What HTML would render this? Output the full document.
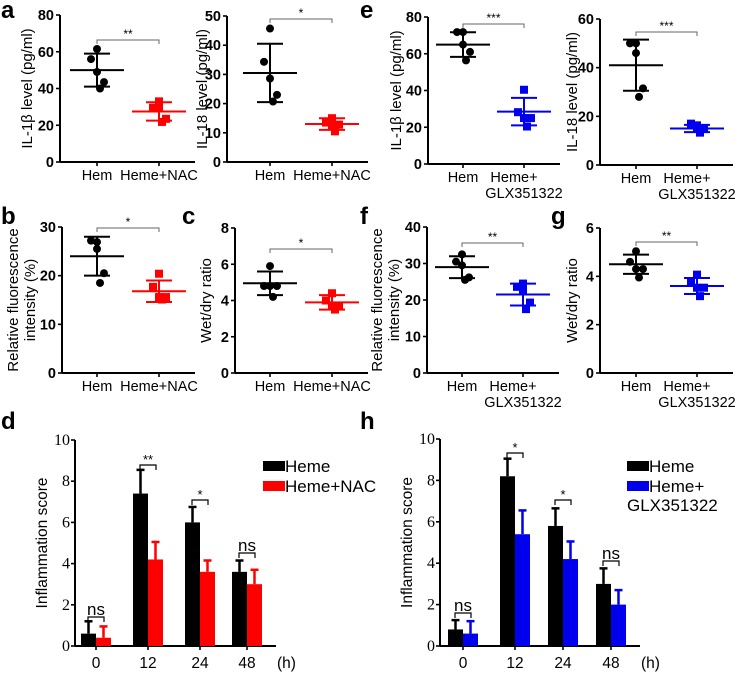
<!DOCTYPE html>
<html><head><meta charset="utf-8"><style>
html,body{margin:0;padding:0;background:#fff;}
svg{display:block;font-family:"Liberation Sans",Arial,sans-serif;}
</style></head><body>
<svg id="fig" width="753" height="676" viewBox="0 0 753 676" xmlns="http://www.w3.org/2000/svg">
<g font-weight="bold" font-size="24" fill="#000">
<text x="1" y="18">a</text>
<text x="360" y="18">e</text>
<text x="1" y="224">b</text>
<text x="182" y="224">c</text>
<text x="360" y="224">f</text>
<text x="551" y="224">g</text>
<text x="1" y="429">d</text>
<text x="360" y="429">h</text>
</g>
</svg>
<script>
// ---------- data ----------
const aIL1bHem = [61.5, 56, 49, 43.5, 40];
const aIL1bNac = [33, 29.5, 29.5, 23.5, 21.8];
const aIL18Hem = [45.7, 34.3, 28.6, 23, 20.7];
const aIL18Nac = [15, 13.5, 12.5, 12.8, 10.5];
const eIL1bHem = [71.8, 71.8, 65, 61, 56.4];
const eIL1bGlx = [40.4, 28.2, 25, 25, 20.4];
const eIL18Hem = [50, 50, 46, 31.5, 28];
const eIL18Glx = [16.3, 17, 15, 15, 13.3];
const bHem = [26.9, 27.2, 25.5, 20.5, 18.5];
const bNac = [20.4, 17.7, 15.6, 15.6, 15.1];
const cHem = [5.9, 4.8, 4.8, 4.8, 4.2];
const cNac = [4.4, 4.0, 3.7, 3.7, 3.5];
const fHem = [32.5, 30.5, 29.5, 26.2, 25.5];
const fGlx = [24.5, 23.6, 22.7, 19.3, 17.5];
const gHem = [5.04, 4.6, 4.3, 4.3, 3.95];
const gGlx = [4.07, 3.77, 3.53, 3.53, 3.18];
const aIL1bStats = [[50, 9], [27.5, 5]];
const aIL18Stats = [[30.5, 10], [13, 2]];
const eIL1bStats = [[65, 6.7], [28.5, 7.5]];
const eIL18Stats = [[41, 10.5], [15, 1.5]];
const bStats = [[24, 4], [16.8, 2.2]];
const cStats = [[4.95, 0.65], [3.9, 0.4]];
const fStats = [[29, 3], [21.5, 3]];
const gStats = [[4.5, 0.4], [3.6, 0.33]];
const timeCats = ["0", "12", "24", "48"];
const dHeme = [0.6, 7.4, 6.0, 3.6];
const dHemeErr = [0.6, 1.15, 0.75, 0.55];
const dNac = [0.4, 4.2, 3.6, 3.0];
const dNacErr = [0.55, 0.85, 0.55, 0.7];
const dSig = ["ns", "**", "*", "ns"];
const hHeme = [0.8, 8.2, 5.8, 3.0];
const hHemeErr = [0.45, 0.85, 0.85, 0.75];
const hGlx = [0.6, 5.4, 4.2, 2.0];
const hGlxErr = [0.6, 1.15, 0.85, 0.7];
const hSig = ["ns", "*", "*", "ns"];
const barTicks = [0, 2, 4, 6, 8, 10];

const svg = document.getElementById('fig');
const NS = 'http://www.w3.org/2000/svg';
function mk(tag, attrs, parent, text) {
  const e = document.createElementNS(NS, tag);
  for (const k in attrs) e.setAttribute(k, attrs[k]);
  if (text !== undefined) e.textContent = text;
  (parent || svg).appendChild(e);
  return e;
}
const jitter = [0, -6, 0, 7, 3];

function scatter(o) {
  const g = mk('g', {});
  
  
  const y = v => o.y0 - (v / o.max) * (o.y0 - o.yTop);
  const xEnd = o.x2 + 36;
  mk('line', {x1: o.ax, y1: o.yTop, x2: o.ax, y2: o.y0, stroke: '#000', 'stroke-width': 2}, g);
  mk('line', {x1: o.ax, y1: o.y0, x2: xEnd, y2: o.y0, stroke: '#000', 'stroke-width': 2}, g);
  o.ticks.forEach(t => {
    mk('line', {x1: o.ax - 4, y1: y(t), x2: o.ax, y2: y(t), stroke: '#000', 'stroke-width': 1.6}, g);
    const tl = mk('text', {x: o.ax - 6, y: y(t) + 5, 'text-anchor': 'end', 'font-size': 14.5, 'font-weight': 'bold'}, g, String(t));
    
    
  });
  [o.x1, o.x2].forEach(x => mk('line', {x1: x, y1: o.y0, x2: x, y2: o.y0 + 4, stroke: '#000', 'stroke-width': 1.6}, g));
  const l1 = mk('text', {x: o.x1, y: o.y0 + 18, 'text-anchor': 'middle', 'font-size': 14.5}, g, o.labels[0]);
  
  
  o.labels[1].forEach((s, i) => {
    const l2 = mk('text', {x: o.x2 + (i === 0 && o.labels[1].length > 1 ? -10 : 0), y: o.y0 + 18 + i * 16, 'text-anchor': 'middle', 'font-size': 14.5}, g, s);
    
    
  });
  const yt = mk('g', {transform: `translate(${o.titleX},${(o.yTop + o.y0) / 2}) rotate(-90)`}, g);
  o.title.forEach((s, i) => {
    const t = mk('text', {x: 0, y: i * 17, 'text-anchor': 'middle', 'font-size': 15}, yt, s);
    
    
  });
  const by = o.brY;
  mk('path', {d: `M${o.x1},${by + 4}V${by}H${o.x2}V${by + 4}`, fill: 'none', stroke: '#666', 'stroke-width': 1}, g);
  const st = mk('text', {x: (o.x1 + o.x2) / 2, y: by - 2, 'text-anchor': 'middle', 'font-size': 12}, g, o.sig);
  
  
  const sets = [[o.d1, '#000', o.x1, 'circle', o.stats[0]], [o.d2, o.color, o.x2, 'square', o.stats[1]]];
  sets.forEach(([data, col, cx, shape, st2]) => {
    const [m, sd] = st2;
    mk('line', {x1: cx - 27, y1: y(m), x2: cx + 27, y2: y(m), stroke: col, 'stroke-width': 2}, g);
    mk('line', {x1: cx, y1: y(m - sd), x2: cx, y2: y(m + sd), stroke: col, 'stroke-width': 2}, g);
    mk('line', {x1: cx - 13, y1: y(m + sd), x2: cx + 13, y2: y(m + sd), stroke: col, 'stroke-width': 2}, g);
    mk('line', {x1: cx - 13, y1: y(m - sd), x2: cx + 13, y2: y(m - sd), stroke: col, 'stroke-width': 2}, g);
    data.forEach((v, i) => {
      const px = cx + jitter[i];
      let p;
      if (shape === 'circle') p = mk('circle', {cx: px, cy: y(v), r: 4, fill: col}, g);
      else p = mk('rect', {x: px - 4, y: y(v) - 4, width: 8, height: 8, fill: col}, g);
      
      
    });
  });
}

const NAC = ['Heme+NAC'], GLX = ['Heme+', 'GLX351322'];
scatter({name: 'panel-a-il1b', ax: 60, yTop: 15, y0: 162, max: 80, ticks: [0, 20, 40, 60, 80], x1: 97, x2: 159, labels: ['Hem', NAC], title: ['IL-1β level (pg/ml)'], titleX: 32, d1: aIL1bHem, d2: aIL1bNac, stats: aIL1bStats, color: '#f00', brY: 40, sig: '**'});
scatter({name: 'panel-a-il18', ax: 227, yTop: 16, y0: 162, max: 50, ticks: [0, 10, 20, 30, 40, 50], x1: 270, x2: 332, labels: ['Hem', NAC], title: ['IL-18 level (pg/ml)'], titleX: 207, d1: aIL18Hem, d2: aIL18Nac, stats: aIL18Stats, color: '#f00', brY: 19, sig: '*'});
scatter({name: 'panel-e-il1b', ax: 428, yTop: 17, y0: 164, max: 80, ticks: [0, 20, 40, 60, 80], x1: 463, x2: 524, labels: ['Hem', GLX], title: ['IL-1β level (pg/ml)'], titleX: 401, d1: eIL1bHem, d2: eIL1bGlx, stats: eIL1bStats, color: '#0000ee', brY: 24, sig: '***'});
scatter({name: 'panel-e-il18', ax: 600, yTop: 19, y0: 165, max: 60, ticks: [0, 20, 40, 60], x1: 636, x2: 697, labels: ['Hem', GLX], title: ['IL-18 level (pg/ml)'], titleX: 577, d1: eIL18Hem, d2: eIL18Glx, stats: eIL18Stats, color: '#0000ee', brY: 32, sig: '***'});
scatter({name: 'panel-b-fluorescence', ax: 62, yTop: 227, y0: 373, max: 30, ticks: [0, 10, 20, 30], x1: 97, x2: 159, labels: ['Hem', NAC], title: ['Relative fluorescence', 'intensity (%)'], titleX: 18, d1: bHem, d2: bNac, stats: bStats, color: '#f00', brY: 228, sig: '*'});
scatter({name: 'panel-c-wetdry', ax: 235, yTop: 228, y0: 373, max: 8, ticks: [0, 2, 4, 6, 8], x1: 270, x2: 332, labels: ['Hem', NAC], title: ['Wet/dry ratio'], titleX: 211, d1: cHem, d2: cNac, stats: cStats, color: '#f00', brY: 249, sig: '*'});
scatter({name: 'panel-f-fluorescence', ax: 427, yTop: 227, y0: 373, max: 40, ticks: [0, 10, 20, 30, 40], x1: 462, x2: 523, labels: ['Hem', GLX], title: ['Relative fluorescence', 'intensity (%)'], titleX: 382, d1: fHem, d2: fGlx, stats: fStats, color: '#0000ee', brY: 243, sig: '**'});
scatter({name: 'panel-g-wetdry', ax: 600, yTop: 228, y0: 373, max: 6, ticks: [0, 2, 4, 6], x1: 636, x2: 697, labels: ['Hem', GLX], title: ['Wet/dry ratio'], titleX: 577, d1: gHem, d2: gGlx, stats: gStats, color: '#0000ee', brY: 242, sig: '**'});

function bars(o) {
  const g = mk('g', {});
  
  
  const y = v => o.y0 - (v / 10) * (o.y0 - o.yTop);
  const bw = 15;
  mk('line', {x1: o.ax, y1: o.yTop, x2: o.ax, y2: o.y0, stroke: '#000', 'stroke-width': 2}, g);
  mk('line', {x1: o.ax, y1: o.y0, x2: o.xEnd, y2: o.y0, stroke: '#000', 'stroke-width': 2}, g);
  barTicks.forEach(t => {
    mk('line', {x1: o.ax - 4, y1: y(t), x2: o.ax, y2: y(t), stroke: '#000', 'stroke-width': 1.6}, g);
    const tl = mk('text', {x: o.ax - 5, y: y(t) + 5, 'text-anchor': 'end', 'font-size': 16, 'font-family': '"Liberation Serif",serif'}, g, String(t));
    
    
  });
  const yt = mk('text', {transform: `translate(${o.ax - 28},${(o.yTop + o.y0) / 2}) rotate(-90)`, 'text-anchor': 'middle', 'font-size': 15.5}, g, 'Inflammation score');
  
  
  timeCats.forEach((c, i) => {
    const cx = o.x[i];
    mk('line', {x1: cx, y1: o.y0, x2: cx, y2: o.y0 + 4, stroke: '#000', 'stroke-width': 1.6}, g);
    const xl = mk('text', {x: cx, y: o.y0 + 22, 'text-anchor': 'middle', 'font-size': 15.5}, g, c);
    
    
    [[o.s1[i], o.e1[i], '#000', cx - bw], [o.s2[i], o.e2[i], o.color, cx]].forEach(([v, e, col, bx], j) => {
      const top = y(v + e);
      mk('line', {x1: bx + bw / 2, y1: y(v), x2: bx + bw / 2, y2: top, stroke: col, 'stroke-width': 2.5}, g);
      mk('line', {x1: bx + bw / 2 - 4, y1: top, x2: bx + bw / 2 + 4, y2: top, stroke: col, 'stroke-width': 2.5}, g);
      const b = mk('rect', {x: bx, y: y(v), width: bw, height: o.y0 - y(v), fill: col}, g);
      
      
    });
    const by = o.brY[i];
    mk('path', {d: `M${cx - 8},${by + 5}V${by}H${cx + 8}V${by + 5}`, fill: 'none', stroke: '#000', 'stroke-width': 1.2}, g);
    const ns = o.sig[i] === 'ns';
    const st = mk('text', {x: cx, y: by - (ns ? 2 : 1), 'text-anchor': 'middle', 'font-size': ns ? 17 : 13}, g, o.sig[i]);
    
    
  });
  const hl = mk('text', {x: o.xEnd + 1, y: o.y0 + 22, 'font-size': 15.5}, g, '(h)');
  
  
  const lx = o.legX;
  const r1 = mk('rect', {x: lx, y: 461, width: 22, height: 10, fill: '#000'}, g);
  
  
  const t1 = mk('text', {x: lx + 22, y: 472, 'font-size': 17}, g, 'Heme');
  
  
  const r2 = mk('rect', {x: lx, y: 481, width: 22, height: 10, fill: o.color}, g);
  
  
  o.legLabel.forEach((s, i) => {
    const t2 = mk('text', {x: lx + 22 - (i ? 22 : 0), y: 492 + i * 19, 'font-size': 17}, g, s);
    
    
  });
}
bars({name: 'panel-d-inflammation', ax: 75, yTop: 440, y0: 646, xEnd: 276, x: [96, 148, 200, 247], s1: dHeme, e1: dHemeErr, s2: dNac, e2: dNacErr, color: '#f00', sig: dSig, brY: [617, 465, 500, 553], legX: 263, legLabel: ['Heme+NAC']});
bars({name: 'panel-h-inflammation', ax: 440, yTop: 439, y0: 646, xEnd: 640, x: [463, 515, 563, 611], s1: hHeme, e1: hHemeErr, s2: hGlx, e2: hGlxErr, color: '#0000ee', sig: hSig, brY: [613, 453, 500, 561], legX: 627, legLabel: ['Heme+', 'GLX351322']});
</script>
</body></html>
